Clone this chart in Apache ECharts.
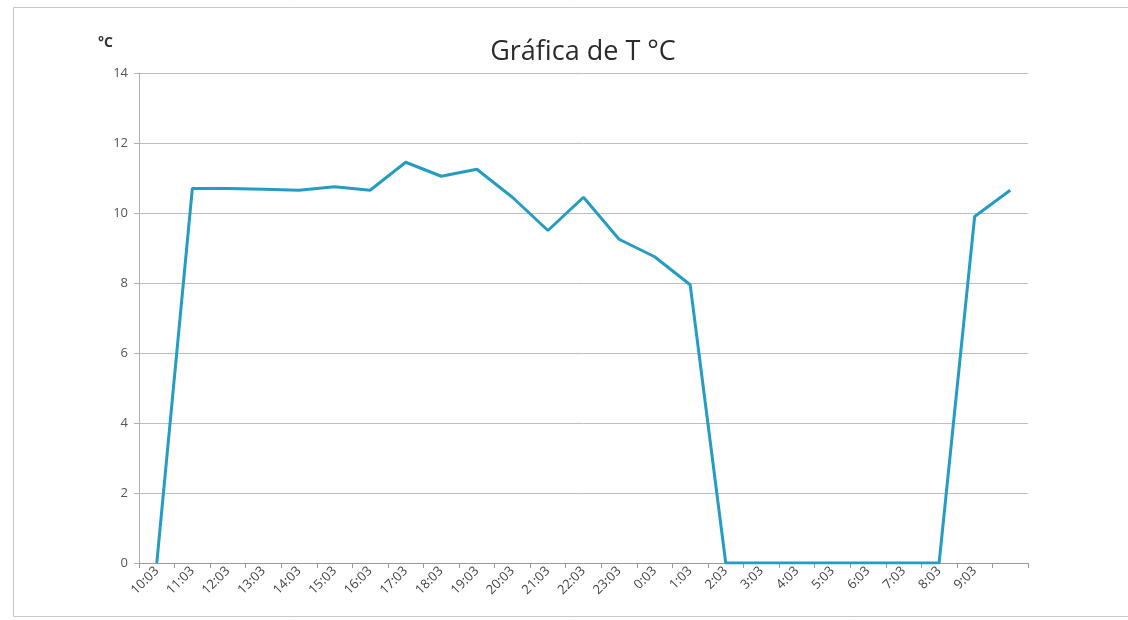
<!DOCTYPE html>
<html>
<head>
<meta charset="utf-8">
<script src="https://cdn.jsdelivr.net/npm/echarts@6/dist/echarts.min.js"></script>
<style>html,body{margin:0;padding:0;background:#fff}#c{width:1128px;height:620px}</style>
</head>
<body>
<div id="c"></div>
<script>
var categories = ['10:03','11:03','12:03','13:03','14:03','15:03','16:03','17:03','18:03','19:03','20:03','21:03','22:03','23:03','0:03','1:03','2:03','3:03','4:03','5:03','6:03','7:03','8:03','9:03',''];
var temperatures = [0, 10.7, 10.7, 10.68, 10.65, 10.75, 10.65, 11.45, 11.05, 11.25, 10.45, 9.5, 10.45, 9.25, 8.75, 7.95, 0, 0, 0, 0, 0, 0, 0, 9.9, 10.65];
var titleText = 'Gráfica de T °C';
var unitText = '°C';

var chart = echarts.init(document.getElementById('c'), null, {renderer: 'canvas'});
chart.setOption({
  animation: false,
  backgroundColor: '#fff',
  graphic: [{
    type: 'rect', shape: {x: 13.5, y: 7.5, width: 1130, height: 609},
    style: {fill: 'none', stroke: '#c6c6c6', lineWidth: 1}, silent: true
  }],
  title: {
    text: titleText, left: 578, top: 34, textAlign: 'center',
    textStyle: {fontFamily: 'Open Sans', fontSize: 27, fontWeight: 'normal', color: '#2b2b2b'}
  },
  grid: {left: 139, right: 100, top: 73, bottom: 57},
  xAxis: {
    type: 'category', data: categories, boundaryGap: true,
    axisLine: {lineStyle: {color: '#9a9a9a', width: 1}},
    axisTick: {show: true, length: 5, lineStyle: {color: '#9a9a9a'}},
    axisLabel: {rotate: 45, interval: 0, margin: 6, fontFamily: 'Open Sans', fontSize: 13, color: '#444'}
  },
  yAxis: {
    type: 'value', min: 0, max: 14, interval: 2,
    name: unitText, nameLocation: 'end', nameGap: 23,
    nameTextStyle: {fontFamily: 'Open Sans', fontSize: 14, fontWeight: 'bold', color: '#333', align: 'right', padding: [0, 26, 0, 0]},
    axisLine: {show: true, lineStyle: {color: '#b0b0b0', width: 1}},
    axisTick: {show: true, length: 5, lineStyle: {color: '#b0b0b0'}},
    axisLabel: {margin: 11, fontFamily: 'Open Sans', fontSize: 13, color: '#555'},
    splitLine: {lineStyle: {color: '#bdbdbd', width: 1}}
  },
  series: [{
    type: 'line', data: temperatures, showSymbol: false, symbol: 'none',
    lineStyle: {color: '#259cc3', width: 3}, itemStyle: {color: '#259cc3'}
  }]
});
</script>
</body>
</html>
